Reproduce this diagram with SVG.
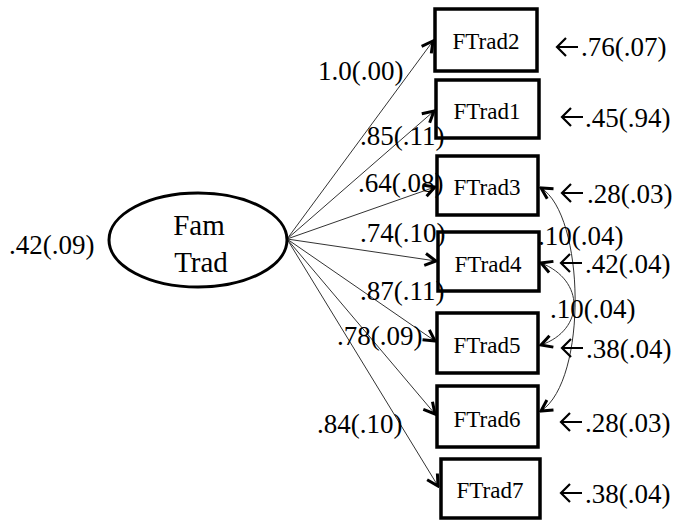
<svg xmlns="http://www.w3.org/2000/svg" width="673" height="521" viewBox="0 0 673 521">
  <style>
    text { font-family: "Liberation Serif", "Times New Roman", serif; fill: #000; }
    .lbl { font-size: 27px; }
    .box { fill: #fff; stroke: #000; stroke-width: 3.5; }
    .box-t { font-size: 23px; text-anchor: middle; }
    .lat { fill: #fff; stroke: #000; stroke-width: 3; }
    .lat-t { font-size: 29px; text-anchor: middle; }
    .path { fill: none; stroke: #333; stroke-width: 1; marker-end: url(#head); }
    .cov { fill: none; stroke: #333; stroke-width: 1; marker-start: url(#headS); marker-end: url(#head); }
    .err { fill: none; stroke: #000; stroke-width: 2.2; stroke-linecap: butt; stroke-linejoin: miter; }
  </style>
  <defs>
    <marker id="head" viewBox="-14 -9 16 18" refX="0" refY="0" markerWidth="16" markerHeight="18" markerUnits="userSpaceOnUse" orient="auto">
      <path d="M-11,-6 L0,0 L-11,6" fill="none" stroke="#000" stroke-width="3" stroke-linejoin="miter"/>
    </marker>
    <marker id="headS" viewBox="-14 -9 16 18" refX="0" refY="0" markerWidth="16" markerHeight="18" markerUnits="userSpaceOnUse" orient="auto-start-reverse">
      <path d="M-11,-6 L0,0 L-11,6" fill="none" stroke="#000" stroke-width="3" stroke-linejoin="miter"/>
    </marker>
    <!-- short residual arrow, tip at origin -->
    <path id="err-arrow" class="err" d="M0,0 H21 M9,-9 L0,0 L9,9"/>
  </defs>

  <!-- factor loadings, residual covariances and residual arrows -->
  <g id="connectors">
    <path class="path" d="M287,239 L433,41"/>
    <path class="path" d="M287,239 L434,111"/>
    <path class="path" d="M287,239 L435,187"/>
    <path class="path" d="M287,239 L436,261"/>
    <path class="path" d="M287,239 L435,341"/>
    <path class="path" d="M287,239 L435,414"/>
    <path class="path" d="M287,239 L438,486"/>
    <path class="cov" d="M541,188 C585,215 588,380 541,411"/>
    <path class="cov" d="M541,263 C585,280 585,330 541,345"/>
    <use href="#err-arrow" x="557" y="47"/>
    <use href="#err-arrow" x="562" y="117"/>
    <use href="#err-arrow" x="562" y="193"/>
    <use href="#err-arrow" x="561" y="263"/>
    <use href="#err-arrow" x="562" y="348"/>
    <use href="#err-arrow" x="561" y="422"/>
    <use href="#err-arrow" x="561" y="493"/>
  </g>

  <!-- latent factor -->
  <g id="FamTrad">
    <ellipse class="lat" cx="198" cy="240" rx="89" ry="47"/>
    <text class="lat-t" x="199" y="235">Fam</text>
    <text class="lat-t" x="201" y="272">Trad</text>
    <text class="lbl" x="9" y="254">.42(.09)</text>
  </g>

  <!-- indicators with residual variances -->
  <g id="FTrad2">
    <rect class="box" x="435" y="9" width="102" height="62"/>
    <text class="box-t" x="486" y="49">FTrad2</text>
    <text class="lbl" x="581" y="56">.76(.07)</text>
  </g>
  <g id="FTrad1">
    <rect class="box" x="436" y="80" width="103" height="58"/>
    <text class="box-t" x="487" y="119">FTrad1</text>
    <text class="lbl" x="585" y="127">.45(.94)</text>
  </g>
  <g id="FTrad3">
    <rect class="box" x="437" y="156" width="101" height="59"/>
    <text class="box-t" x="487" y="195">FTrad3</text>
    <text class="lbl" x="587" y="203">.28(.03)</text>
  </g>
  <g id="FTrad4">
    <rect class="box" x="438" y="232" width="101" height="59"/>
    <text class="box-t" x="488" y="272">FTrad4</text>
    <text class="lbl" x="585" y="273">.42(.04)</text>
  </g>
  <g id="FTrad5">
    <rect class="box" x="437" y="313" width="101" height="60"/>
    <text class="box-t" x="487" y="353">FTrad5</text>
    <text class="lbl" x="586" y="358">.38(.04)</text>
  </g>
  <g id="FTrad6">
    <rect class="box" x="437" y="386" width="101" height="61"/>
    <text class="box-t" x="487" y="427">FTrad6</text>
    <text class="lbl" x="585" y="432">.28(.03)</text>
  </g>
  <g id="FTrad7">
    <rect class="box" x="441" y="459" width="99" height="59"/>
    <text class="box-t" x="490" y="498">FTrad7</text>
    <text class="lbl" x="585" y="503">.38(.04)</text>
  </g>

  <!-- loading and covariance labels -->
  <g id="edge-labels">
    <text class="lbl" x="318" y="80">1.0(.00)</text>
    <text class="lbl" x="360" y="145">.85(.11)</text>
    <text class="lbl" x="358" y="192">.64(.08)</text>
    <text class="lbl" x="360" y="242">.74(.10)</text>
    <text class="lbl" x="360" y="300">.87(.11)</text>
    <text class="lbl" x="337" y="345">.78(.09)</text>
    <text class="lbl" x="317" y="433">.84(.10)</text>
    <text class="lbl" x="538" y="245">.10(.04)</text>
    <text class="lbl" x="550" y="318">.10(.04)</text>
  </g>
</svg>
